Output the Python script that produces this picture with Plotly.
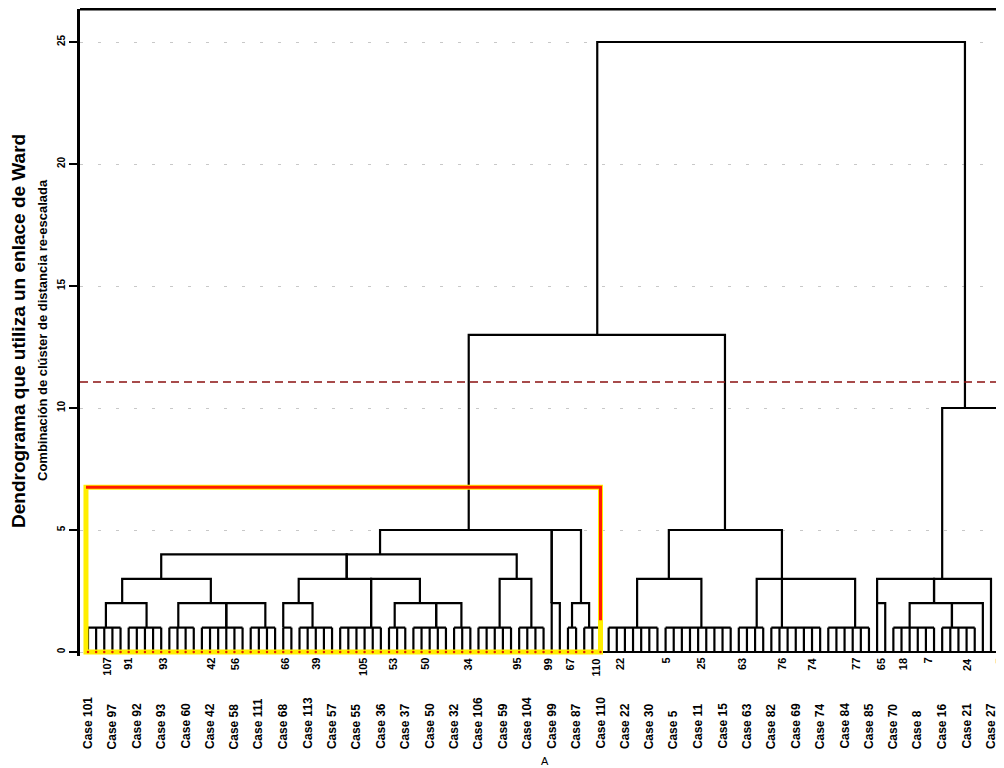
import plotly.graph_objects as go

# ---------------- data ----------------
n_leaves = 113
case_labels = ["Case 101", "Case 97", "Case 92", "Case 93", "Case 60", "Case 42", "Case 58",
               "Case 111", "Case 68", "Case 113", "Case 57", "Case 55", "Case 36", "Case 37",
               "Case 50", "Case 32", "Case 106", "Case 59", "Case 104", "Case 99", "Case 87",
               "Case 110", "Case 22", "Case 30", "Case 5", "Case 11", "Case 15", "Case 63",
               "Case 82", "Case 69", "Case 74", "Case 84", "Case 85", "Case 70", "Case 8",
               "Case 16", "Case 21", "Case 27"]
case_label_step = 3

# first-level groups (leaf index ranges joined at height 1)
comb_first = [1, 6, 11, 15, 21, 25, 27, 32, 38, 41, 46, 49, 54, 60, 62,
              65, 72, 81, 85, 92, 100, 106]
comb_last = [5, 10, 14, 20, 24, 26, 31, 37, 40, 45, 48, 53, 57, 61, 64,
             71, 80, 84, 91, 97, 105, 110]

# merges: left anchor, right anchor, merge height, left child height, right child height
link_left = [63.6, 47.8, 106.0, 36.9, 58.0, 58.0, 60.5, 10.0, 32.8, 5.2, 3.2, 12.1, 18.0,
             26.9, 35.8, 25.0, 38.7, 43.8, 51.6, 72.4, 68.5, 83.2, 98.0, 98.0, 105.0, 102.0, 107.2]
link_right = [108.8, 79.3, 113.0, 58.0, 61.6, 59.0, 62.6, 32.8, 53.7, 16.1, 8.2, 18.0, 22.8,
              35.8, 41.8, 28.6, 43.8, 46.9, 55.5, 86.3, 76.4, 95.3, 99.0, 105.0, 112.0, 107.2, 111.0]
link_height = [25, 13, 10, 5, 5, 2, 2, 4, 4, 3, 2, 2, 2,
               3, 3, 2, 2, 2, 3, 5, 3, 3, 2, 3, 3, 2, 2]
link_left_base = [13, 5, 3, 4, 2, 0, 1, 3, 3, 2, 1, 1, 1,
                  2, 1, 1, 1, 1, 1, 3, 1, 1, 0, 2, 2, 1, 1]
link_right_base = [10, 5, 0, 2, 2, 0, 1, 3, 3, 2, 1, 1, 1,
                   1, 2, 1, 1, 1, 1, 1, 1, 1, 0, 2, 0, 1, 0]

cut_height = 11.07
highlight_first = 1
highlight_last = 64
highlight_height = 6.75

stem_labels = ["107", "91", "93", "42", "56", "66", "39", "105", "53", "50", "34", "95", "99",
               "67", "110", "22", "5", "25", "63", "76", "74", "77", "65", "18", "7", "24", "5"]
stem_label_pos = [3.3, 5.9, 10.2, 16.1, 19.1, 25.2, 29.0, 34.8, 38.5, 42.4, 47.6, 53.7, 57.6,
                  60.3, 63.5, 66.4, 72.0, 76.3, 81.4, 86.3, 89.9, 95.4, 98.5, 101.2, 104.2, 109.0, 113.1]

y_title = "Dendrograma que utiliza un enlace de Ward"
y_subtitle = "Combinación de clúster de distancia re-escalada"
y_ticks = [0, 5, 10, 15, 20, 25]

# ---------------- geometry of the figure ----------------
OFF = 8                      # page body margin in the browser
W, H = 1004, 768
plot_left_pg, plot_top_pg, plot_bottom_pg = 80, 9, 656
m_l = plot_left_pg - OFF
m_t = plot_top_pg - OFF
m_b = H - (plot_bottom_pg - OFF)
m_r = 0
px_per_leaf = 8.135
px_per_unit = 24.4
plot_w = W - m_l - m_r
plot_h = H - m_t - m_b
leaf1_pg = 88
x0 = 1 - (leaf1_pg - plot_left_pg) / px_per_leaf
x_range = [x0, x0 + plot_w / px_per_leaf]
zero_pg = 652
y0 = -(plot_bottom_pg - zero_pg) / px_per_unit
y_range = [y0, y0 + plot_h / px_per_unit]


def py_to_paper(py):
    return (plot_bottom_pg - py) / plot_h


def px_to_paper(px):
    return (px - plot_left_pg) / plot_w


# ---------------- build line geometry ----------------
lx, ly = [], []
for a, b in zip(comb_first, comb_last):
    for k in range(a, b + 1):
        lx += [k, k, None]
        ly += [0, 1, None]
    lx += [a, b, None]
    ly += [1, 1, None]
for xl, xr, h, hl, hr in zip(link_left, link_right, link_height, link_left_base, link_right_base):
    lx += [xl, xl, xr, xr, None]
    ly += [hl, h, h, hr, None]
lx += [1, n_leaves, None]
ly += [0, 0, None]

fig = go.Figure()
fig.add_trace(go.Scatter(x=lx, y=ly, mode="lines", line=dict(color="black", width=2.2),
                         hoverinfo="skip", showlegend=False))

fig.add_trace(go.Scatter(x=[x_range[0], x_range[1]], y=[cut_height, cut_height], mode="lines",
                         line=dict(color="#8b1010", width=1.5, dash="8px,5px"),
                         hoverinfo="skip", showlegend=False))

hx0 = highlight_first - 0.25
hx1 = highlight_last
hh = highlight_height
fig.add_trace(go.Scatter(x=[hx0, hx0, hx1, hx1, hx0, hx0], y=[hh, 0, 0, hh, hh, 0], mode="lines",
                         line=dict(color="#ffee00", width=5), hoverinfo="skip", showlegend=False))
fig.add_trace(go.Scatter(x=[hx0, hx1, hx1], y=[hh, hh, 1.3], mode="lines",
                         line=dict(color="#ff1a00", width=3), hoverinfo="skip", showlegend=False))
fig.add_trace(go.Scatter(x=list(range(highlight_first, highlight_last + 1)),
                         y=[0] * (highlight_last - highlight_first + 1), mode="markers",
                         marker=dict(color="#e02000", size=2.5), hoverinfo="skip", showlegend=False))

# ---------------- annotations ----------------
ann = []
ann.append(dict(text=y_title, x=px_to_paper(18), y=py_to_paper(331), xref="paper", yref="paper",
                textangle=-90, showarrow=False, xanchor="center", yanchor="middle",
                font=dict(family="Liberation Sans, Arial", size=19, color="black", weight="bold")))
ann.append(dict(text=y_subtitle, x=px_to_paper(42), y=py_to_paper(330), xref="paper", yref="paper",
                textangle=-90, showarrow=False, xanchor="center", yanchor="middle",
                font=dict(family="Liberation Sans, Arial", size=13, color="black", weight="bold")))
for t, p in zip(stem_labels, stem_label_pos):
    ann.append(dict(text=t, x=p, y=py_to_paper(656), xref="x", yref="paper", textangle=-90,
                    showarrow=False, xanchor="center", yanchor="top",
                    font=dict(family="Liberation Sans, Arial", size=11, color="black", weight="bold")))
for j, t in enumerate(case_labels):
    ann.append(dict(text=t, x=1 + j * case_label_step, y=py_to_paper(751), xref="x", yref="paper",
                    textangle=-90, showarrow=False, xanchor="center", yanchor="bottom",
                    font=dict(family="Liberation Sans, Arial", size=12, color="black", weight="bold")))
ann.append(dict(text="A", x=px_to_paper(545), y=py_to_paper(753), xref="paper", yref="paper",
                showarrow=False, xanchor="center", yanchor="top",
                font=dict(family="Liberation Sans, Arial", size=11, color="black")))

fig.update_layout(
    width=W, height=H,
    margin=dict(l=m_l, r=m_r, t=m_t, b=m_b, pad=0),
    paper_bgcolor="white", plot_bgcolor="white",
    showlegend=False,
    annotations=ann,
    shapes=[dict(type="line", xref="paper", yref="paper", x0=0, x1=1, y0=1, y1=1,
                 line=dict(color="black", width=3))],
    xaxis=dict(range=x_range, showgrid=False, zeroline=False, showline=False,
               showticklabels=False, ticks=""),
    yaxis=dict(range=y_range, tickvals=y_ticks, ticks="outside", ticklen=8, tickwidth=2,
               tickcolor="black", showline=True, linecolor="black", linewidth=2.5,
               tickangle=-90, zeroline=False,
               tickfont=dict(family="Liberation Sans, Arial", size=10, color="black", weight="bold"),
               showgrid=True, gridcolor="#c8c8c8", gridwidth=1, griddash="3px,15px"),
)

fig.write_html("out.html")
